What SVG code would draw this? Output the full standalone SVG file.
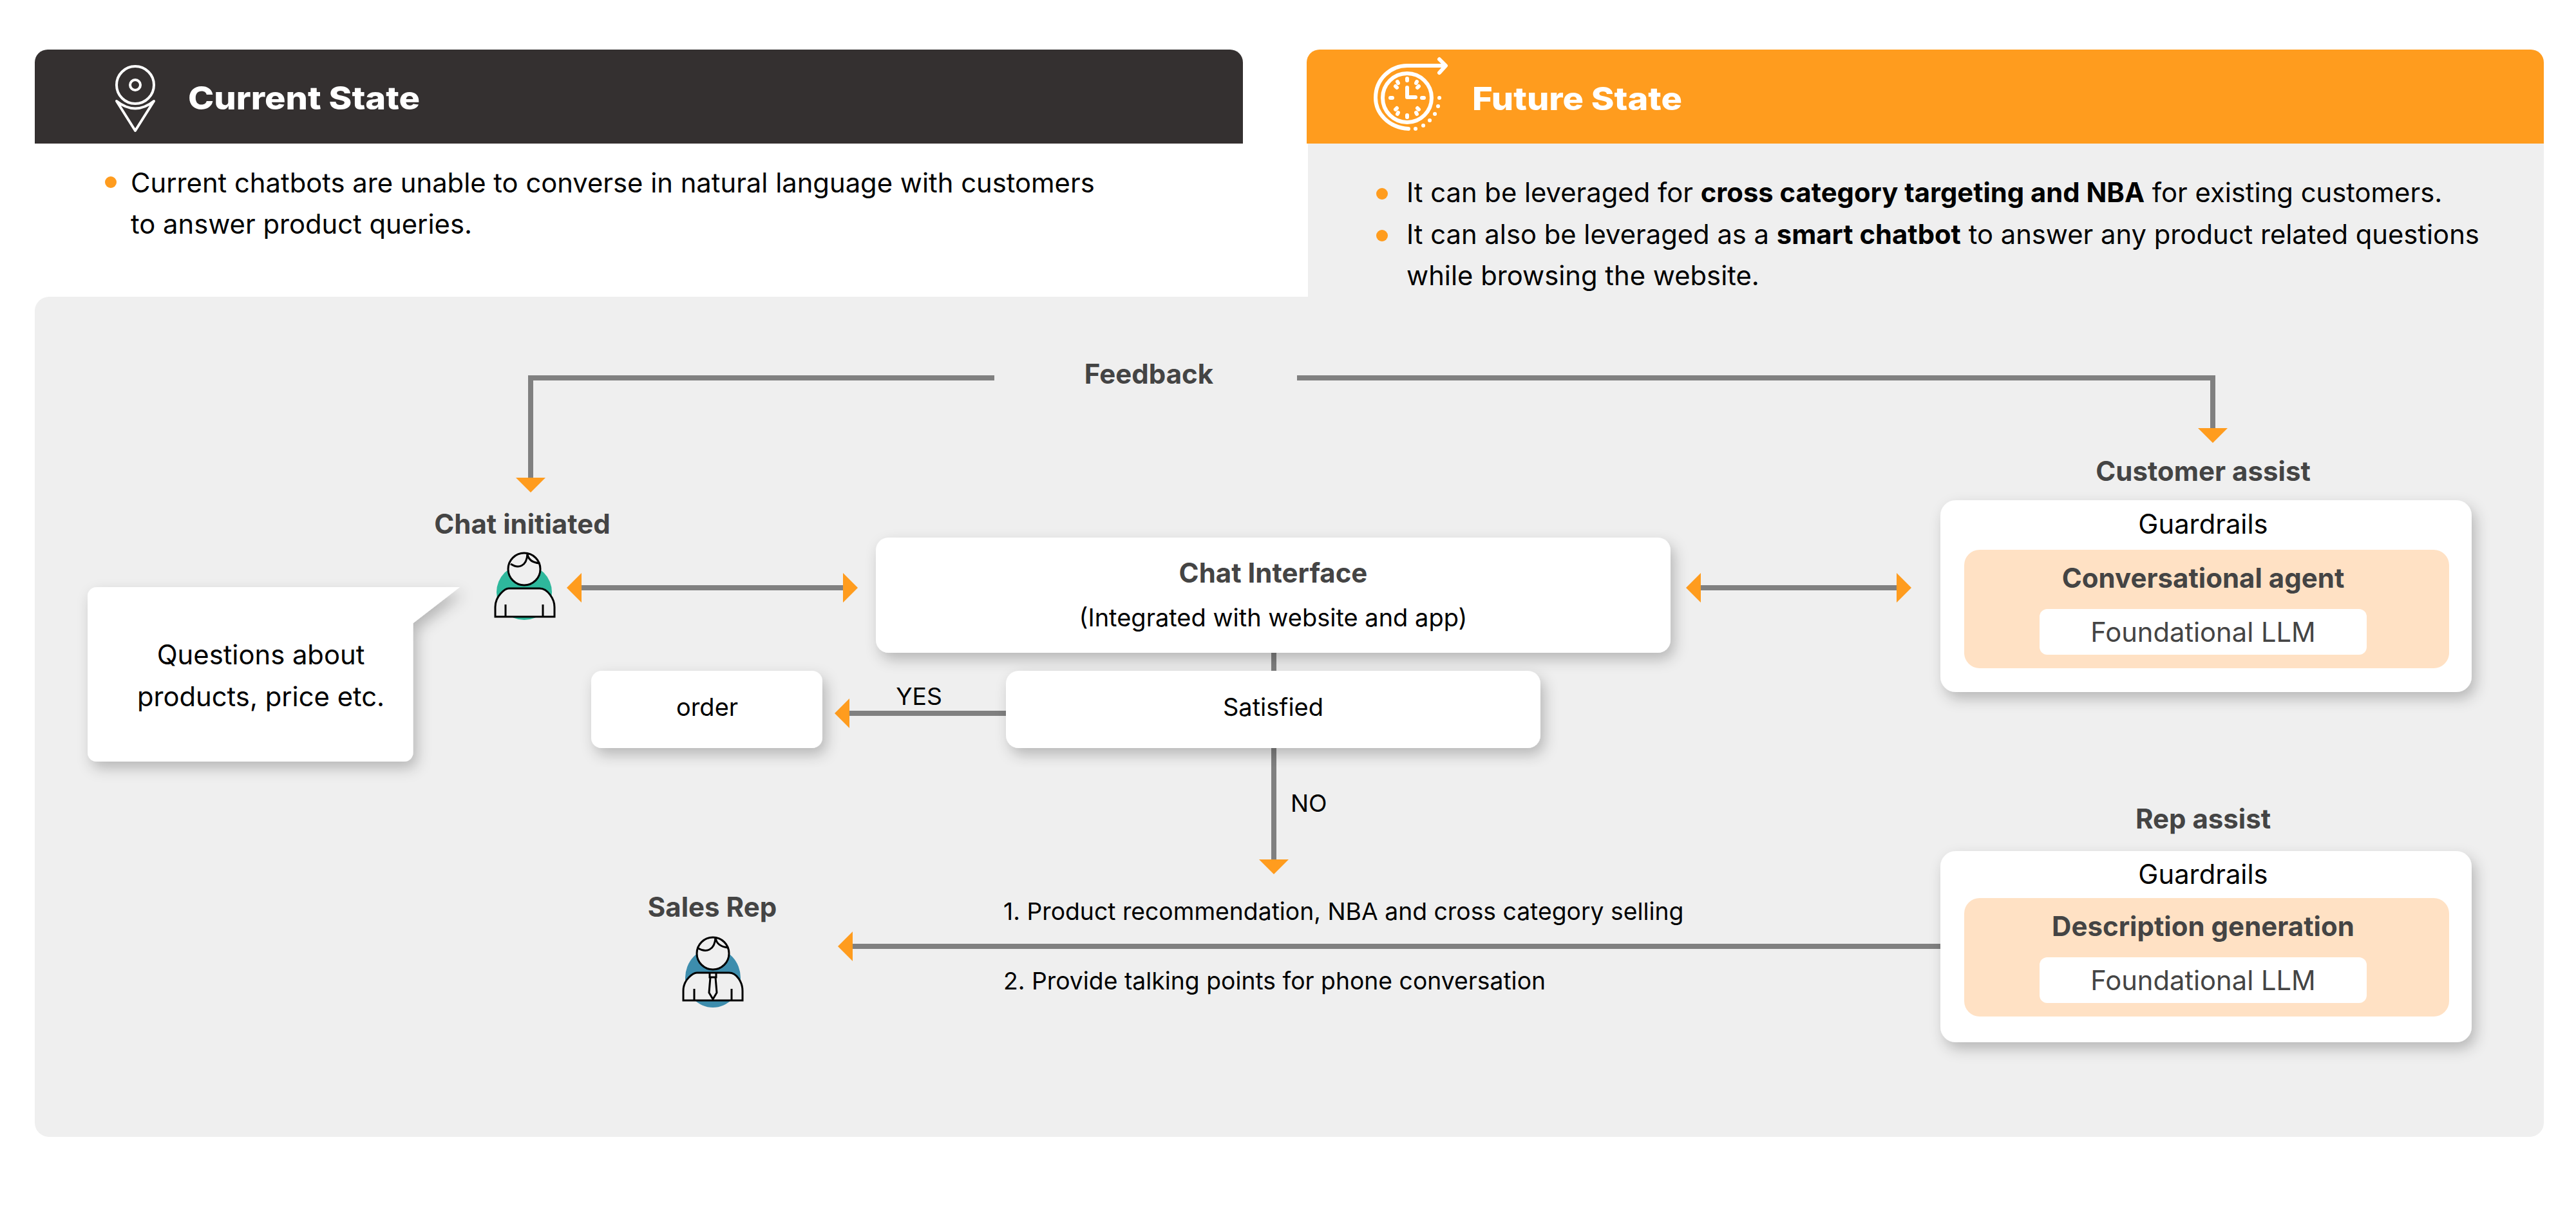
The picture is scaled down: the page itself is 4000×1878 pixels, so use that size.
<svg xmlns="http://www.w3.org/2000/svg" width="4000" height="1878" viewBox="0 0 4000 1878">
<defs>
<style>
text{font-family:Inter,"Liberation Sans",sans-serif;fill:#000}
.b{font-size:41.75px}
.s{font-size:37.3px}
.n{font-size:38px}
.m{text-anchor:middle}
.h{font-size:42px;font-weight:700;fill:#444;text-anchor:middle}
.f{font-size:41.7px;fill:#444;text-anchor:middle}
.t{font-size:49px;font-weight:800;fill:#fff}
.l{fill:none;stroke:#808080;stroke-width:8}
.a{fill:#ff9c1e}
.w{fill:#fff;filter:url(#sh)}
.p{fill:#efefef;stroke:#000;stroke-width:3}
.q{fill:none;stroke:#000;stroke-width:3}
.i{fill:none;stroke:#fff;stroke-width:4;stroke-linecap:round;stroke-linejoin:round}
.j{fill:none;stroke:#fff;stroke-width:6;stroke-linecap:round;stroke-linejoin:round}
</style>
<filter id="sh" x="-15%" y="-15%" width="130%" height="140%"><feDropShadow dx="6" dy="10" stdDeviation="11" flood-color="#000" flood-opacity=".24"/></filter>
</defs>
<rect width="4000" height="1878" fill="#fff"/>
<g id="current-state">
<path d="M54 223V97a20 20 0 0 1 20-20H1910a20 20 0 0 1 20 20V223Z" fill="#343030"/>
<g class="i"><circle cx="210" cy="132" r="29"/><circle cx="210" cy="132" r="8"/><path d="M181 157Q210 180 239 157L210 203Z"/></g>
<text class="t" x="292" y="170" textLength="360" lengthAdjust="spacingAndGlyphs">Current State</text>
<circle class="a" cx="172" cy="283" r="9"/>
<text class="b" x="203" y="299">Current chatbots are unable to converse in natural language with customers</text>
<text class="b" x="203" y="363">to answer product queries.</text>
</g>
<g id="future-state">
<rect x="2031" y="200" width="1919" height="280" fill="#efefef"/>
<path d="M2029 223V97a20 20 0 0 1 20-20H3930a20 20 0 0 1 20 20V223Z" fill="#ff9c1e"/>
<g class="j">
<circle cx="2185" cy="152" r="38"/>
<path d="M2187 200C2155 198 2136 175 2136 152C2136 122 2160 102 2185 102H2244M2235 92L2245 102L2235 113"/>
<path d="M2185 136V151H2198M2185 122v3M2185 179v3M2159 152h3M2208 152h3M2167 134l2 2M2203 134l-2 2M2167 170l2-2M2203 170l-2-2M2170 127l1 2M2200 127l-1 2M2170 177l1-2M2200 177l-1-2"/>
<path d="M2235 152h.1M2233 165h.1M2228 177h.1M2220 187h.1M2210 195h.1M2198 200h.1"/>
</g>
<text class="t" x="2286" y="171" textLength="326" lengthAdjust="spacingAndGlyphs">Future State</text>
</g>
<g id="panel"><rect x="54" y="461" width="3896" height="1305" rx="22" fill="#efefef"/></g>
<g id="future-text">
<circle class="a" cx="2146" cy="301" r="9"/>
<text class="b" x="2184" y="314">It can be leveraged for <tspan font-weight="700">cross category targeting and NBA</tspan> for existing customers.</text>
<circle class="a" cx="2146" cy="366" r="9"/>
<text class="b" x="2184" y="379">It can also be leveraged as a <tspan font-weight="700">smart chatbot</tspan> to answer any product related questions</text>
<text class="b" x="2184" y="443">while browsing the website.</text>
</g>
<g id="connectors">
<path class="l" d="M1544 587H824V745"/>
<path class="l" d="M2014 587H3436V665"/>
<path class="l" d="M895 913H1309"/>
<path class="l" d="M2641 913H2945"/>
<path class="l" d="M1978 1013V1042M1978 1162V1335"/>
<path class="l" d="M1562 1108H1319"/>
<path class="l" d="M3013 1470H1323"/>
<path class="a" d="M801 742H847L824 765Z"/>
<path class="a" d="M3413 665H3459L3436 688Z"/>
<path class="a" d="M880 913L903 890V936Z"/>
<path class="a" d="M1332 913L1309 890V936Z"/>
<path class="a" d="M2618 913L2641 890V936Z"/>
<path class="a" d="M2968 913L2945 890V936Z"/>
<path class="a" d="M1955 1335H2001L1978 1358Z"/>
<path class="a" d="M1296 1108L1319 1085V1131Z"/>
<path class="a" d="M1301 1470L1324 1447V1493Z"/>
</g>
<g id="feedback"><text class="h" x="1784" y="596">Feedback</text></g>
<g id="callout">
<path class="w" d="M150 912H714L641.500 968V1169a14 14 0 0 1-14 14H150a14 14 0 0 1-14-14V926a14 14 0 0 1 14-14Z"/>
<text class="b m" x="405" y="1032">Questions about</text>
<text class="b m" x="405" y="1097">products, price etc.</text>
</g>
<g id="chat-initiated">
<text class="h" x="811" y="829">Chat initiated</text>
<circle cx="814" cy="920" r="43" fill="#2eb89c"/>
<circle class="p" cx="814" cy="884" r="25"/>
<path class="p" d="M769 958V943C769 925 785 914 790 914H838C850 914 861 930 861 943V958Z"/>
<path class="q" d="M785 939V958M843 939V958M793 876C805 884 818 880 819 860C820 870 828 874 838 875"/>
</g>
<g id="chat-interface">
<rect class="w" x="1360" y="835" width="1234" height="179" rx="20"/>
<text class="h" x="1977" y="905">Chat Interface</text>
<text class="n m" x="1977" y="973">(Integrated with website and app)</text>
</g>
<g id="satisfied">
<rect class="w" x="1562" y="1042" width="830" height="120" rx="20"/>
<text class="n m" x="1977" y="1112">Satisfied</text>
</g>
<g id="order">
<rect class="w" x="918" y="1042" width="359" height="120" rx="16"/>
<text class="n m" x="1098" y="1112">order</text>
</g>
<g id="edge-labels">
<text class="s m" x="1427" y="1095">YES</text>
<text class="s" x="2004" y="1261">NO</text>
<text class="s" x="1558" y="1429">1. Product recommendation, NBA and cross category selling</text>
<text class="s" x="1558" y="1537">2. Provide talking points for phone conversation</text>
</g>
<g id="sales-rep">
<text class="h" x="1106" y="1424">Sales Rep</text>
<ellipse cx="1107" cy="1519" rx="43" ry="46" fill="#3d8dad"/>
<circle class="p" cx="1107" cy="1481" r="25"/>
<path class="p" d="M1061 1554V1539C1061 1521 1077 1511 1082 1511H1132C1144 1511 1153 1526 1153 1539V1554Z"/>
<path class="q" d="M1078 1536V1554M1136 1536V1554M1084 1473C1096 1480 1110 1477 1111 1456C1112 1466 1120 1471 1130 1472M1102 1511V1518H1112V1511M1103 1518L1101 1542L1107 1552L1113 1542L1111 1518"/>
</g>
<g id="customer-assist">
<text class="h" x="3421" y="747">Customer assist</text>
<rect class="w" x="3013" y="777" width="825" height="298" rx="24"/>
<text class="b m" x="3421" y="829">Guardrails</text>
<rect x="3050" y="854" width="753" height="184" rx="24" fill="#ffe1c4"/>
<text class="h" x="3421" y="913">Conversational agent</text>
<rect x="3167" y="946" width="508" height="71" rx="12" fill="#fff"/>
<text class="f" x="3421" y="997">Foundational LLM</text>
</g>
<g id="rep-assist">
<text class="h" x="3421" y="1287">Rep assist</text>
<rect class="w" x="3013" y="1322" width="825" height="297" rx="24"/>
<text class="b m" x="3421" y="1373">Guardrails</text>
<rect x="3050" y="1395" width="753" height="184" rx="24" fill="#ffe1c4"/>
<text class="h" x="3421" y="1454">Description generation</text>
<rect x="3167" y="1487" width="508" height="71" rx="12" fill="#fff"/>
<text class="f" x="3421" y="1538">Foundational LLM</text>
</g>
</svg>
